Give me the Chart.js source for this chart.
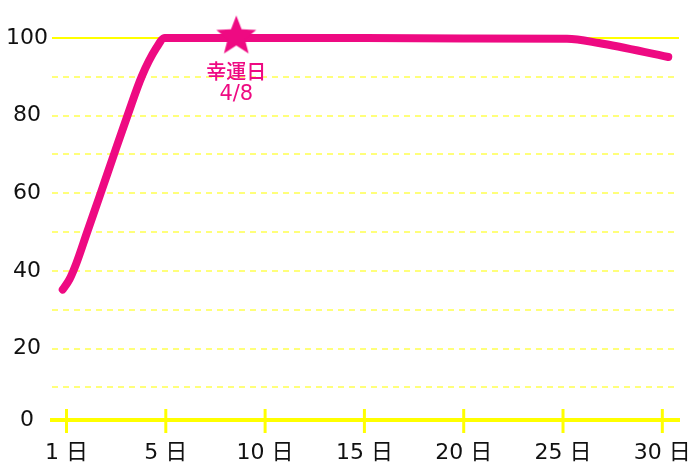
<!DOCTYPE html>
<html>
<head>
<meta charset="utf-8">
<script src="https://cdn.jsdelivr.net/npm/chart.js@4.4.1/dist/chart.umd.min.js"></script>
<style>
    html, body { margin: 0; padding: 0; background: #fff; overflow: hidden; }
    #wrap { width: 700px; height: 467px; }
</style>
</head>
<body>
<div id="wrap"><canvas id="luckChart"></canvas></div>
<script>
// Curve points (x = day position, 0 is the "1 日" tick)
const dayPoints = [-0.19, 0.15, 0.5, 1.04, 1.72, 2.39, 3.07, 3.78, 4.53, 4.95, 8.5, 15, 20, 25.2, 26.8, 30.3];
const luckValues = [35.2, 37.8, 42, 50, 60, 70, 80, 90, 97.5, 100, 100, 100, 99.9, 99.8, 98.7, 95.1];

// Axis ticks
const xTickValues = [0, 5, 10, 15, 20, 25, 30];
const xTickLabels = ['1 日', '5 日', '10 日', '15 日', '20 日', '25 日', '30 日'];
const yTickValues = [1.6, 10, 20, 30, 40, 50, 60, 70, 80, 90, 100];
const yTickLabels = ['0', '', '20', '', '40', '', '60', '', '80', '', '100'];

// Lucky day marker
const luckyDay = [8.55];
const luckyValue = [100.4];
const luckyText = ['幸運日', '4/8'];

const PINK = '#ee0a82';
const YELLOW = '#ffff00';
const PALE_YELLOW = '#ffff7a';
const FONT = "'DejaVu Sans', 'Noto Sans CJK JP', sans-serif";

/**
 * Build a filled five point star to use as a point style
 */
function makeStar(radius, color) {
    const size = Math.ceil(radius * 2) + 2;
    const c = document.createElement('canvas');
    c.width = size;
    c.height = size;
    const g = c.getContext('2d');
    g.beginPath();
    for (let i = 0; i < 10; i++) {
        const r = i % 2 === 0 ? radius : radius * 0.43;
        const a = -Math.PI / 2 + i * Math.PI / 5;
        g.lineTo(size / 2 + r * Math.cos(a), size / 2 + r * Math.sin(a));
    }
    g.closePath();
    g.fillStyle = color;
    g.fill();
    return c;
}

// Solid 100 line, x tick marks and the marker caption
const decorations = {
    id: 'decorations',
    beforeDatasetsDraw(chart) {
        const { ctx, chartArea, scales } = chart;
        const y = scales.y.getPixelForValue(100);
        ctx.save();
        ctx.strokeStyle = YELLOW;
        ctx.lineWidth = 2;
        ctx.beginPath();
        ctx.moveTo(chartArea.left, y);
        ctx.lineTo(chartArea.right, y);
        ctx.stroke();
        ctx.restore();
    },
    afterDraw(chart) {
        const { ctx, chartArea, scales } = chart;
        ctx.save();
        ctx.strokeStyle = YELLOW;
        ctx.lineWidth = 3;
        xTickValues.forEach(v => {
            const x = scales.x.getPixelForValue(v);
            ctx.beginPath();
            ctx.moveTo(x, chartArea.bottom - 11);
            ctx.lineTo(x, chartArea.bottom + 13);
            ctx.stroke();
        });

        const sx = scales.x.getPixelForValue(luckyDay[0]);
        const sy = scales.y.getPixelForValue(luckyValue[0]);
        ctx.fillStyle = PINK;
        ctx.textAlign = 'center';
        ctx.textBaseline = 'middle';
        ctx.font = "500 20px 'Noto Sans CJK JP', sans-serif";
        ctx.fillText(luckyText[0], sx, sy + 35);
        ctx.font = '21px ' + FONT;
        ctx.fillText(luckyText[1], sx, sy + 58);
        ctx.restore();
    }
};

const ctx = document.getElementById('luckChart');

new Chart(ctx, {
    type: 'line',
    data: {
        datasets: [{
            data: luckyDay.map((d, i) => ({ x: d, y: luckyValue[i] })),
            pointStyle: makeStar(21, PINK),
            pointRadius: 20,
            showLine: false,
            clip: false,
            order: 0
        }, {
            data: dayPoints.map((d, i) => ({ x: d, y: luckValues[i] })),
            borderColor: PINK,
            borderWidth: 8,
            borderCapStyle: 'round',
            borderJoinStyle: 'round',
            cubicInterpolationMode: 'monotone',
            pointRadius: 0,
            fill: false,
            clip: false,
            order: 1
        }]
    },
    options: {
        responsive: true,
        maintainAspectRatio: false,
        animation: false,
        layout: {
            padding: { top: 38, right: 20, bottom: 0, left: 0 }
        },
        plugins: {
            legend: { display: false },
            tooltip: { enabled: false }
        },
        scales: {
            x: {
                type: 'linear',
                min: -0.73,
                max: 30.84,
                afterFit: scale => {
                    scale.height = 47;
                    scale.paddingLeft = 0;
                    scale.paddingRight = 0;
                },
                afterBuildTicks: scale => {
                    scale.ticks = xTickValues.map(v => ({ value: v }));
                },
                ticks: {
                    padding: 12,
                    maxRotation: 0,
                    color: '#111',
                    font: { family: FONT, size: 22 },
                    callback: (value, index) => xTickLabels[index]
                },
                grid: { display: false },
                border: { display: true, color: YELLOW, width: 4 }
            },
            y: {
                min: 1.6,
                max: 100,
                afterFit: scale => {
                    scale.width = 52;
                    scale.paddingTop = 0;
                    scale.paddingBottom = 0;
                },
                afterBuildTicks: scale => {
                    scale.ticks = yTickValues.map(v => ({ value: v }));
                },
                ticks: {
                    padding: 4,
                    crossAlign: 'center',
                    color: '#111',
                    font: { family: FONT, size: 22 },
                    callback: (value, index) => yTickLabels[index]
                },
                grid: {
                    drawTicks: false,
                    lineWidth: 2,
                    color: context => {
                        const v = context.tick ? context.tick.value : 0;
                        return (v === yTickValues[0] || v === 100) ? 'rgba(0,0,0,0)' : PALE_YELLOW;
                    }
                },
                border: { display: false, dash: [6, 5] }
            }
        }
    },
    plugins: [decorations]
});
</script>
</body>
</html>
